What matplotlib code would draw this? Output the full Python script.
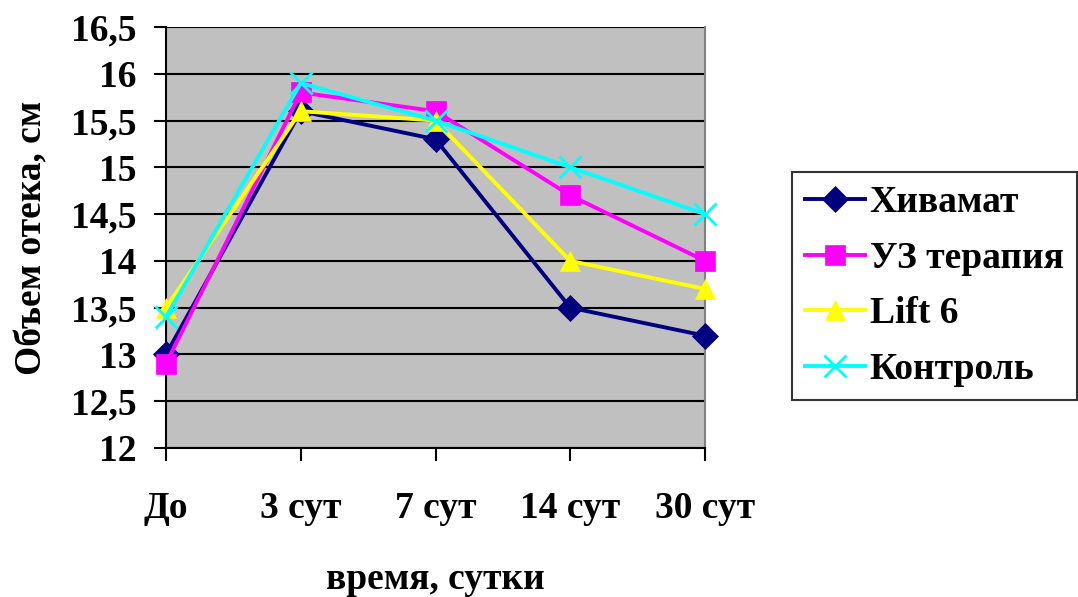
import matplotlib.pyplot as plt
import numpy as np

plt.rcParams['font.family'] = ['Liberation Serif', 'DejaVu Serif']
plt.rcParams['font.weight'] = 'bold'
plt.rcParams['axes.labelweight'] = 'bold'

days = ['До', '3 сут', '7 сут', '14 сут', '30 сут']
hivamat = [13.0, 15.6, 15.3, 13.5, 13.2]
uz_therapy = [12.9, 15.8, 15.6, 14.7, 14.0]
lift6 = [13.5, 15.6, 15.5, 14.0, 13.7]
control = [13.4, 15.9, 15.5, 15.0, 14.5]

series = [
    ('Хивамат', hivamat, '#000080', 'D', 13),
    ('УЗ терапия', uz_therapy, '#FF00FF', 's', 14),
    ('Lift 6', lift6, '#FFFF00', '^', 15),
    ('Контроль', control, '#00FFFF', 'x', 16),
]

fig = plt.figure(figsize=(10.78, 5.97), dpi=100)
ax = fig.add_axes([166 / 1078, 1 - 448 / 597, (705 - 166) / 1078, (448 - 27) / 597])
ax.set_facecolor('#C0C0C0')

x = np.arange(len(days))
for name, vals, color, marker, ms in series:
    ax.plot(x, vals, color=color, lw=2.8, marker=marker, markersize=ms,
            markeredgewidth=2 if marker == 'x' else 0.5, markeredgecolor=color,
            label=name, clip_on=False, zorder=3)

ax.set_xlim(0, 4)
ax.set_ylim(12, 16.5)
yt = np.arange(12, 16.51, 0.5)
ax.set_yticks(yt)
ax.set_yticklabels([('%g' % v).replace('.', ',') for v in yt])
ax.set_xticks(x)
ax.set_xticklabels(days)
ax.yaxis.grid(True, color='black', lw=1.5)
ax.set_axisbelow(True)

for side in ['left', 'bottom']:
    ax.spines[side].set_color('black')
    ax.spines[side].set_linewidth(1.5)
ax.spines['right'].set_color('#808080')
ax.spines['right'].set_linewidth(1.5)
ax.spines['top'].set_visible(False)

ax.tick_params(axis='both', direction='out', length=9, width=1.5, labelsize=27)
ax.tick_params(axis='y', pad=12)
ax.tick_params(axis='x', pad=22)

ax.set_xlabel('время, сутки', fontsize=27, labelpad=26)
ax.set_ylabel('Объем отека, см', fontsize=27, labelpad=16)

leg = fig.legend(loc='upper left', bbox_to_anchor=(792 / 1078, 1 - 172 / 597),
                 fontsize=27, frameon=True, fancybox=False, edgecolor='black',
                 handlelength=1.6, handletextpad=0.12, borderpad=0.35,
                 labelspacing=0.55, borderaxespad=0)
leg.get_frame().set_linewidth(1.5)

fig.savefig('out.png', dpi=100)
